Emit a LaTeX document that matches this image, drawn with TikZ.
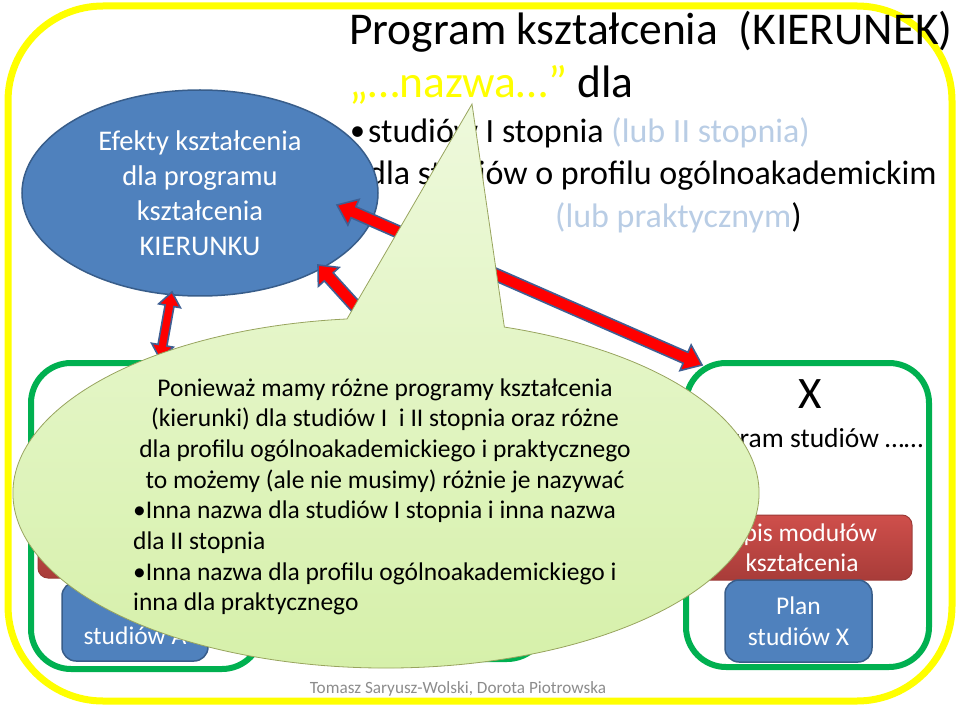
\documentclass[tikz,border=0pt]{standalone}
\usepackage{fontspec}
\setmainfont{Carlito}
\usetikzlibrary{calc,shapes.geometric}
\definecolor{yel}{HTML}{FFFF00}
\definecolor{grn}{HTML}{00B050}
\definecolor{bluef}{HTML}{4F81BD}
\definecolor{blued}{HTML}{385D8A}
\definecolor{redt}{HTML}{CF4F4B}
\definecolor{redb}{HTML}{A83C39}
\definecolor{redd}{HTML}{9B3A37}
\definecolor{lb}{HTML}{B9CDE5}
\definecolor{calltop}{HTML}{EEF9DC}
\definecolor{callbot}{HTML}{D5F0A8}
\definecolor{callline}{HTML}{98A45E}
\definecolor{foot}{HTML}{8C8C8C}
\definecolor{arrred}{HTML}{FF0000}
\definecolor{arrline}{HTML}{3F5F93}
\newcommand\dblarr[5]{% from, to, head length, head half width, shaft half width
  \path[arrowshape] (#1)
   -- ($(#1)!#3!(#2)!#4!90:(#2)$)
   -- ($(#1)!#3!(#2)!#5!90:(#2)$)
   -- ($(#2)!#3!(#1)!#5!-90:(#1)$)
   -- ($(#2)!#3!(#1)!#4!-90:(#1)$)
   -- (#2)
   -- ($(#2)!#3!(#1)!#4!90:(#1)$)
   -- ($(#2)!#3!(#1)!#5!90:(#1)$)
   -- ($(#1)!#3!(#2)!#5!-90:(#2)$)
   -- ($(#1)!#3!(#2)!#4!-90:(#2)$)
   -- cycle;}
\begin{document}
\begin{tikzpicture}[x=1pt,y=-1pt,
  greenbox/.style={draw=grn, line width=6pt, rounded corners=40pt, fill=white},
  redbox/.style={draw=redd, line width=1pt, top color=redt, bottom color=redb, rounded corners=10pt, text=white, align=center, font=\fontsize{25.5}{30}\selectfont},
  bluebox/.style={draw=blued, line width=1.5pt, fill=bluef, rounded corners=14pt, text=white, align=center, font=\fontsize{25.5}{31}\selectfont},
  arrowshape/.style={fill=arrred, draw=arrline, line width=1.6pt, line join=miter},
  titlefont/.style={font=\fontsize{45.5}{50}\selectfont},
  bulletfont/.style={font=\fontsize{34}{40}\selectfont},
  calltext/.style={font=\fontsize{25.5}{31}\selectfont, inner sep=0},
  callout/.style={draw=callline, line width=0.8pt, top color=calltop, bottom color=callbot}
]
\useasboundingbox (0,0) rectangle (960,708);
% yellow frame
\draw[yel, line width=7pt, rounded corners=95pt] (8,6) rectangle (952,701);

% title
\node[titlefont, anchor=base west, inner sep=0] (title) at (349,45) {Program kształcenia\ \ (KIERUNEK)};
\node[titlefont, anchor=base west, inner sep=0] (name) at (349,98) {\textcolor{yel}{„…nazwa…”} dla};
\node[font=\fontsize{30}{36}\selectfont, anchor=base west, inner sep=0] (b1) at (350,141) {•};
\node[bulletfont, anchor=base west, inner sep=0] (l1) at (368,143) {studiów I stopnia \textcolor{lb}{(lub II stopnia)}};
\node[font=\fontsize{30}{36}\selectfont, anchor=base west, inner sep=0] (b2) at (350,183) {•};
\node[bulletfont, anchor=base west, inner sep=0] (l2) at (368,185) {dla studiów o profilu ogólnoakademickim};
\node[bulletfont, anchor=base west, inner sep=0] (l3) at (555,228) {\textcolor{lb}{(lub praktycznym})};

% green boxes
\node[greenbox, minimum width=231pt, minimum height=306pt, inner sep=0] (lbox) at (146.5,516) {};
\node[greenbox, minimum width=252pt, minimum height=296pt, inner sep=0] (mbox) at (421,511) {};
\node[greenbox, minimum width=243pt, minimum height=304pt, inner sep=0] (rbox) at (807.5,515) {};

% left box contents
\node[redbox, minimum width=220pt, minimum height=63pt, inner sep=0] (lred) at (148,546.5) {};
\node[bluebox, minimum width=146pt, minimum height=79pt, inner sep=0] (lblue) at (135,621.5) {};
\node[font=\fontsize{25.5}{31}\selectfont, text=white, anchor=base, inner sep=0] (lbluetext) at (135,644) {studiów A};

% right box contents
\node[font=\fontsize{45}{50}\selectfont, anchor=base, inner sep=0] (rx) at (810,408) {X};
\node[font=\fontsize{27.5}{30}\selectfont, anchor=base, inner sep=0] (rprog) at (806,447) {Program studiów ……};
\node[redbox, minimum width=220pt, minimum height=65pt, inner sep=0] (rred) at (802,547.5) {Opis modułów\\kształcenia};
\node[bluebox, minimum width=147pt, minimum height=82pt, inner sep=0] (rblue) at (798.5,621) {Plan\\studiów X};

% ellipse
\node[ellipse, fill=bluef, draw=blued, line width=1.5pt, minimum width=356pt, minimum height=206pt, inner sep=0,
  align=center, text=white, font=\fontsize{28.5}{35}\selectfont] (eff) at (200,193) {Efekty kształcenia\\dla programu\\kształcenia\\KIERUNKU};

% arrows
\coordinate (a1s) at (172,292);
\coordinate (a1e) at (160,359);
\coordinate (a2s) at (318,265);
\coordinate (a2e) at (415,372);
\coordinate (a3s) at (337,205);
\coordinate (a3e) at (702,365);
\dblarr{a1s}{a1e}{14pt}{11pt}{4.5pt}
\dblarr{a2s}{a2e}{16pt}{14pt}{6pt}
\dblarr{a3s}{a3e}{18pt}{14pt}{6pt}

% callout
\coordinate (cc) at (386,493);
\coordinate (tip) at (472,104);
\path[callout] ($(cc)+(264:373 and 175)$) -- (tip) -- ($(cc)+(-71.5:373 and 175)$)
  arc[start angle=-71.5, end angle=264, x radius=373, y radius=175] -- cycle;
\node[calltext, anchor=base] (c1) at (385,396) {Ponieważ mamy różne programy kształcenia};
\node[calltext, anchor=base] (c2) at (385,426) {(kierunki) dla studiów I\ \ i II stopnia oraz różne};
\node[calltext, anchor=base] (c3) at (385,457) {dla profilu ogólnoakademickiego i praktycznego};
\node[calltext, anchor=base] (c4) at (385,488) {to możemy (ale nie musimy) różnie je nazywać};
\node[calltext, anchor=base west] (c5) at (133,518) {•Inna nazwa dla studiów I stopnia i inna nazwa};
\node[calltext, anchor=base west] (c6) at (133,549) {dla II stopnia};
\node[calltext, anchor=base west] (c7) at (133,580) {•Inna nazwa dla profilu ogólnoakademickiego i};
\node[calltext, anchor=base west] (c8) at (133,610) {inna dla praktycznego};

% footer
\node[text=foot, font=\fontsize{17.2}{20}\selectfont, anchor=base, inner sep=0] (footer) at (458,693) {Tomasz Saryusz-Wolski, Dorota Piotrowska};
\end{tikzpicture}
\end{document}
